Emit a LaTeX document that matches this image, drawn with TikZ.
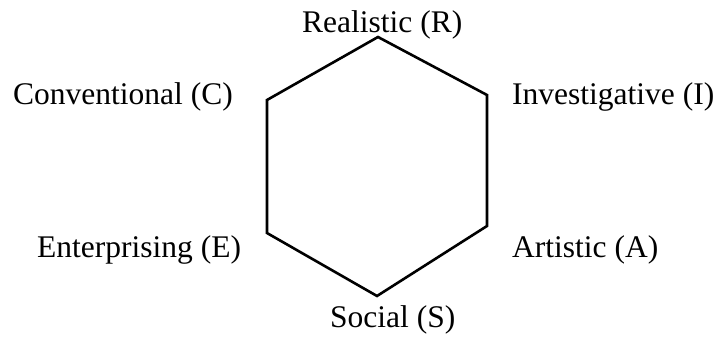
\documentclass[tikz,border=0pt]{standalone}
\usepackage{fontspec}
\setmainfont{Liberation Serif}
\begin{document}
\begin{tikzpicture}[x=1pt,y=-1pt,
  lbl/.style={anchor=base west,inner sep=0pt,font=\fontsize{31.5}{36}\selectfont},
  hexline/.style={line width=2.6pt,line join=miter}]
\useasboundingbox (0,0) rectangle (718,337);
\coordinate (R) at (378,37);
\coordinate (I) at (487,95);
\coordinate (A) at (487,226);
\coordinate (S) at (377,296);
\coordinate (E) at (267,233);
\coordinate (C) at (267,100);
\draw[hexline] (R) -- (I) -- (A) -- (S) -- (E) -- (C) -- cycle;
\node[lbl] (tR) at (302,33) {Realistic (R)};
\node[lbl] (tC) at (13,105) {Conventional (C)};
\node[lbl] (tI) at (512,105) {Investigative (I)};
\node[lbl] (tE) at (37,257) {Enterprising (E)};
\node[lbl] (tA) at (512,257) {Artistic (A)};
\node[lbl] (tS) at (330,327) {Social (S)};
\end{tikzpicture}
\end{document}
